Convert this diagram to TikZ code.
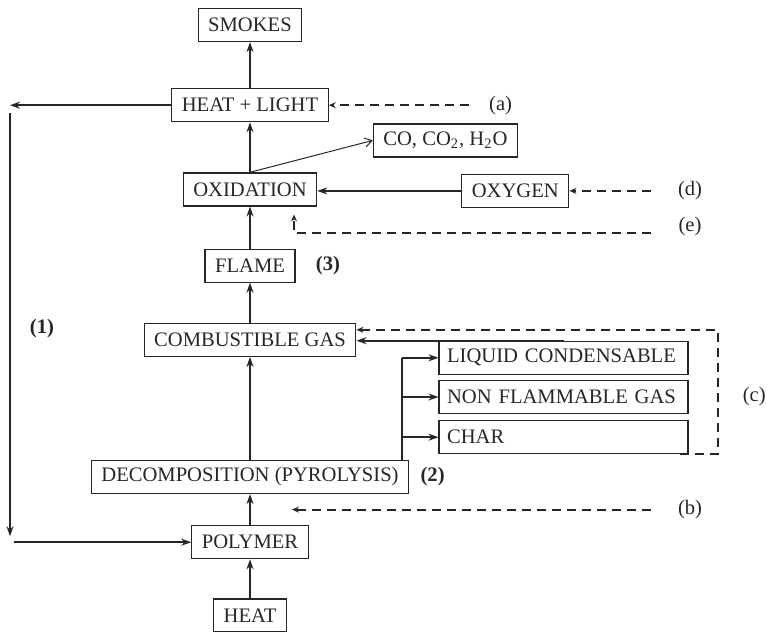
\documentclass[tikz,border=0pt]{standalone}
\usepackage{fontspec}
\setmainfont{Liberation Serif}
\usetikzlibrary{arrows.meta,positioning,calc}

\begin{document}
\begin{tikzpicture}[
  color=black!85,
  node distance=20pt,
  box/.style={rectangle,draw,line width=0.6pt,minimum height=16.5pt,inner xsep=5pt,inner ysep=2pt,
              font=\fontsize{10.3}{12}\selectfont},
  sidebox/.style={box,text width=116.5pt,align=left,inner xsep=4pt},
  lbl/.style={inner sep=0pt,font=\fontsize{10.3}{12}\selectfont},
  num/.style={inner sep=0pt,font=\fontsize{10.3}{12}\selectfont\bfseries},
  arr/.style={-{Stealth[length=5pt,width=3.5pt]},line width=0.9pt},
  thinarr/.style={-{Straight Barb[length=3.5pt,width=4.5pt]},line width=0.5pt},
  darr/.style={-{Stealth[length=3.5pt,width=3pt]},line width=1.1pt,dash pattern=on 4.5pt off 3pt}
]
  \useasboundingbox (0,0) rectangle (384.5pt,-315.5pt);

  % main column
  \node[box] (smokes) at (125pt,-12.5pt) {SMOKES};
  \node[box,below=23pt of smokes] (heatlight) {HEAT + LIGHT};
  \node[box,below=25pt of heatlight] (oxid) {OXIDATION};
  \node[box,below=21pt of oxid] (flame) {FLAME};
  \node[box,below=20pt of flame] (comb) {COMBUSTIBLE GAS};
  \node[box,below=51.5pt of comb] (decomp) {DECOMPOSITION (PYROLYSIS)};
  \node[box,below=15.5pt of decomp] (polymer) {POLYMER};
  \node[box,below=19.5pt of polymer] (heat) {HEAT};

  % side boxes
  \node[box,below right=0.5pt and 22pt of heatlight.south east] (co) {CO, CO\textsubscript{2}, H\textsubscript{2}O};
  \node[box,right=72pt of oxid,yshift=-0.75pt] (oxygen) {OXYGEN};
  \node[sidebox,below right=9pt and 41pt of comb.north east] (liq) {LIQUID CONDENSABLE};
  \node[sidebox,below=2.5pt of liq] (nfg) {NON FLAMMABLE GAS};
  \node[sidebox,below=3pt of nfg] (char) {CHAR};

  % labels
  \coordinate (rcol) at (345pt,0);
  \coordinate (lcol) at (5pt,0);
  \coordinate (redge) at (383pt,0);
  \coordinate (bmid) at ($(decomp.south)!0.5!(polymer.north)$);
  \coordinate (btip) at ([xshift=21pt]bmid);
  \node[lbl,right=80pt of heatlight] (a) {(a)};
  \node[lbl] (d) at (rcol |- oxygen) {(d)};
  \node[lbl] (e) at ([yshift=-18pt]d) {(e)};
  \node[lbl] (b) at (rcol |- bmid) {(b)};
  \coordinate (cloop) at ([xshift=14.5pt]char.south east);
  \node[lbl,anchor=east] (c) at (redge |- nfg) {(c)};
  \node[num] (n1) at ($(lcol |- comb)+(16pt,5.5pt)$) {(1)};
  \node[num,right=5.5pt of decomp] (n2) {(2)};
  \node[num,right=10pt of flame] (n3) {(3)};

  % main flow
  \draw[arr] (heat) -- (polymer);
  \draw[arr] (polymer) -- (decomp);
  \draw[arr] (decomp) -- (comb);
  \draw[arr] (comb) -- (flame);
  \draw[arr] (flame) -- (oxid);
  \draw[arr] (oxid) -- (heatlight);
  \draw[arr] (heatlight) -- (smokes);
  \draw[thinarr] (oxid.north) -- (co.west);
  \draw[arr] (oxygen.west) -- (oxygen.west -| oxid.east);

  % feedback loop (1)
  \draw[arr] (heatlight) -- (lcol |- heatlight);
  \draw[arr] ($(lcol |- heatlight)+(0,-4pt)$) -- ($(lcol |- polymer)+(0,3pt)$);
  \draw[arr] ($(lcol |- polymer)+(2pt,0)$) -- (polymer);

  % pyrolysis products
  \coordinate (br) at ([xshift=-3.5pt]decomp.north east);
  \draw[line width=0.9pt] (br) -- (br |- liq.west);
  \draw[arr] (br |- liq.west) -- (liq.west);
  \draw[arr] (br |- nfg.west) -- (nfg.west);
  \draw[arr] (br |- char.west) -- (char.west);
  \draw[arr] (liq.north) -- (liq.north -| comb.east);

  % dashed inputs
  \draw[darr] ([xshift=-10pt]a.west) -- (heatlight.east);
  \draw[darr] ([xshift=-13.5pt]d.west) -- (oxygen.east);
  \draw[darr] ([xshift=-13.5pt,yshift=-3pt]e.west) -| ([xshift=22pt,yshift=-4pt]oxid.south);
  \draw[darr] ([xshift=-13.5pt]b.west) -- (btip);
  \draw[darr] ([xshift=-4.5pt]char.south east) -- (cloop) |- ([yshift=5pt]comb.east);
\end{tikzpicture}
\end{document}
